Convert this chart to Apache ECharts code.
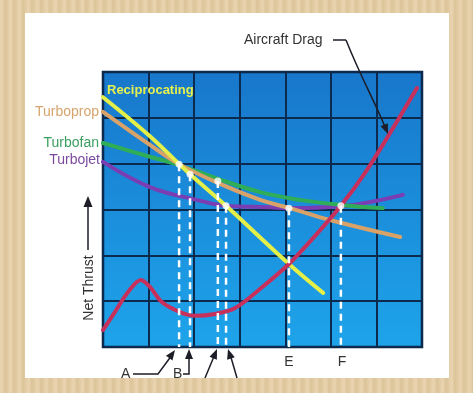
<!DOCTYPE html>
<html><head><meta charset="utf-8">
<script src="https://cdn.jsdelivr.net/npm/echarts@6/dist/echarts.min.js"></script>
<style>
html,body{margin:0;padding:0;width:473px;height:393px;overflow:hidden;
background:#e4cda4;
background-image:repeating-linear-gradient(90deg,rgba(255,255,255,0.10) 0px,rgba(255,255,255,0.10) 3px,rgba(150,110,60,0.08) 4px,rgba(150,110,60,0.08) 6px,rgba(255,255,255,0.05) 9px);}
#panel{position:absolute;left:25px;top:13px;width:424px;height:365px;background:#fff;}
#chart{position:absolute;left:0;top:0;width:473px;height:393px;}
</style></head>
<body><div id="panel"></div><div id="chart"></div>
<script>
// Data (x: 0..7 across plot, y: 0..6 net thrust units)
const reciprocatingX = [0, 1.03, 1.67, 1.91, 2.7, 4.08, 4.83];
const reciprocatingY = [5.45, 4.6, 3.99, 3.77, 3.08, 1.81, 1.18];
const turbopropX = [0, 1.03, 1.67, 2.52, 3.45, 4.1, 4.98, 6.52];
const turbopropY = [5.13, 4.41, 3.99, 3.58, 3.21, 3.03, 2.77, 2.4];
const turbofanX = [0, 1.03, 1.67, 2.52, 3.45, 4.32, 5.22, 6.14];
const turbofanY = [4.45, 4.15, 3.97, 3.67, 3.38, 3.21, 3.1, 3.03];
const turbojetX = [0, 1.03, 2.1, 2.7, 3.66, 4.08, 5.22, 6.58];
const turbojetY = [4.04, 3.49, 3.2, 3.08, 3.05, 3.03, 3.07, 3.32];
const dragX = [0, 0.26, 0.55, 0.83, 1.03, 1.29, 1.69, 2.02, 2.46, 2.9, 3.45, 4.08, 4.65, 5.22, 5.75, 6.3, 6.89];
const dragY = [0.37, 0.76, 1.2, 1.46, 1.31, 0.98, 0.76, 0.68, 0.72, 0.85, 1.27, 1.81, 2.42, 3.08, 3.8, 4.67, 5.65];
const pointNames = ['A', 'B', 'C', 'D', 'E', 'F'];
const pointX = [1.67, 1.91, 2.52, 2.7, 4.08, 5.22];
const pointY = [3.99, 3.77, 3.62, 3.08, 3.03, 3.08];

const zip = (xs, ys) => xs.map((x, i) => [x, ys[i]]);
const chart = echarts.init(document.getElementById('chart'), null, {renderer: 'canvas'});

function curve(name, xs, ys, color, z, smooth) {
  return {name, type: 'line', data: zip(xs, ys), smooth: smooth || 0.4, symbol: 'none', z,
    lineStyle: {color, width: 4, cap: 'round'}};
}
const dashSeries = pointX.map((x, i) => ({
  type: 'line', data: [[x, pointY[i]], [x, 0]], symbol: 'none', z: 8,
  lineStyle: {color: '#ffffff', width: 2.5, type: [7, 5]}
}));

function arrowHead(tip, from, len, hw) {
  const dx = tip[0] - from[0], dy = tip[1] - from[1];
  const L = Math.hypot(dx, dy), ux = dx / L, uy = dy / L;
  const bx = tip[0] - ux * len, by = tip[1] - uy * len;
  return {type: 'polygon', z: 100, shape: {points: [tip, [bx - uy * hw, by + ux * hw], [bx + uy * hw, by - ux * hw]]},
    style: {fill: '#1d1d28'}};
}
function pline(points) {
  return {type: 'polyline', z: 100, shape: {points}, style: {stroke: '#1d1d28', lineWidth: 1.5, fill: null}};
}
function label(text, x, y, color, opts) {
  return Object.assign({type: 'text', z: 100, x, y, style: Object.assign({text, fill: color,
    font: '14px "Liberation Sans", Arial, sans-serif', verticalAlign: 'middle'}, opts || {})});
}

const graphic = [
  label('Aircraft Drag', 244, 40, '#333333'),
  pline([[333, 40], [346, 40]]),
  {type: 'bezierCurve', z: 100, shape: {x1: 346, y1: 40, cpx1: 362, cpy1: 80, cpx2: 376, cpy2: 104, x2: 385, y2: 127},
    style: {stroke: '#1d1d28', lineWidth: 1.5, fill: null}},
  arrowHead([388, 134], [383, 122], 10, 4),
  label('Reciprocating', 107, 90, '#e6f04e', {font: 'bold 13px "Liberation Sans", Arial, sans-serif'}),
  label('Turboprop', 99, 112, '#d6a46c', {align: 'right'}),
  label('Turbofan', 99, 143, '#3a9e5e', {align: 'right'}),
  label('Turbojet', 100, 160, '#7a4a9e', {align: 'right'}),
  {type: 'text', z: 100, x: 89, y: 288, rotation: Math.PI / 2,
    style: {text: 'Net Thrust', fill: '#333333', font: '14px "Liberation Sans", Arial, sans-serif', align: 'center', verticalAlign: 'middle'}},
  pline([[88, 250], [88, 205]]),
  arrowHead([88, 196], [88, 210], 11, 4.5),
  label('A', 121, 374, '#333333'),
  pline([[133, 374], [158, 374], [172, 355]]),
  arrowHead([175, 350], [158, 374], 10, 4),
  label('B', 173, 374, '#333333'),
  pline([[183, 374], [189, 374], [189, 356]]),
  arrowHead([189, 349], [189, 374], 10, 4),
  pline([[205, 378], [215, 354]]),
  arrowHead([217, 349], [205, 378], 10, 4),
  pline([[237, 378], [230, 354]]),
  arrowHead([228, 349], [237, 378], 10, 4),
  label('E', 289, 362, '#333333', {align: 'center'}),
  label('F', 342, 362, '#333333', {align: 'center'})
];

chart.setOption({
  animation: false,
  grid: {left: 103, top: 72, width: 319, height: 275, show: true, z: 0,
    backgroundColor: {type: 'linear', x: 0, y: 0, x2: 0, y2: 1,
      colorStops: [{offset: 0, color: '#1877cb'}, {offset: 1, color: '#1ea4ea'}]},
    borderColor: '#0b2240', borderWidth: 2.5},
  xAxis: {type: 'value', min: 0, max: 7, interval: 1,
    axisLine: {show: false}, axisTick: {show: false}, axisLabel: {show: false},
    splitLine: {show: true, lineStyle: {color: '#0c2a4e', width: 2}}},
  yAxis: {type: 'value', min: 0, max: 6, interval: 1,
    axisLine: {show: false}, axisTick: {show: false}, axisLabel: {show: false},
    splitLine: {show: true, lineStyle: {color: '#0c2a4e', width: 2}}},
  series: [
    ...dashSeries,
    curve('Turbojet', turbojetX, turbojetY, '#7b3db2', 3),
    curve('Turbofan', turbofanX, turbofanY, '#2fae57', 4),
    curve('Turboprop', turbopropX, turbopropY, '#d9a268', 5),
    curve('Reciprocating', reciprocatingX, reciprocatingY, '#e4ef48', 6),
    curve('Aircraft Drag', dragX, dragY, '#c8305c', 7, 0.3),
    {type: 'scatter', data: zip(pointX, pointY), symbolSize: 7, z: 9,
      itemStyle: {color: '#ffffff'}}
  ],
  graphic
});
</script></body></html>
